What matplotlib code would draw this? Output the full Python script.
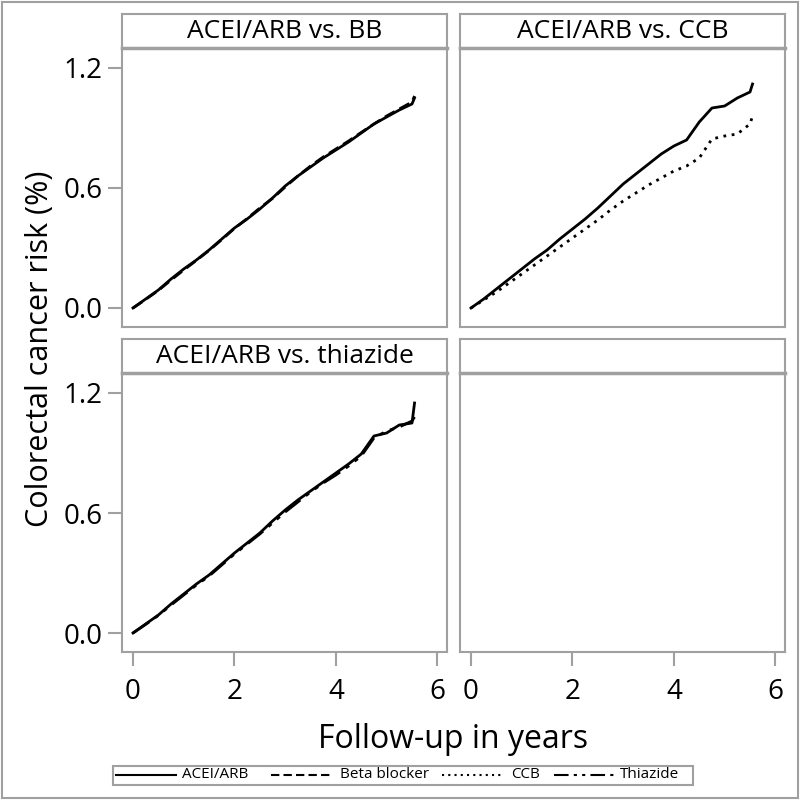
import matplotlib
matplotlib.use("Agg")
import matplotlib.pyplot as plt
from matplotlib.lines import Line2D
from matplotlib.patches import Rectangle

plt.rcParams["font.family"] = ["Open Sans", "DejaVu Sans"]

# follow-up time points (years)
years = [0, 0.25, 0.5, 0.75, 1.0, 1.25, 1.5, 1.75, 2.0, 2.25, 2.5, 2.75,
         3.0, 3.25, 3.5, 3.75, 4.0, 4.25, 4.5, 4.75, 5.0, 5.25, 5.5, 5.55]

# cumulative colorectal cancer risk (%)
bb_acei = [0, 0.045, 0.09, 0.145, 0.195, 0.24, 0.29, 0.345, 0.40, 0.445, 0.495, 0.55,
           0.61, 0.66, 0.705, 0.75, 0.79, 0.83, 0.875, 0.92, 0.955, 0.99, 1.02, 1.05]
bb_beta = [0, 0.043, 0.088, 0.14, 0.19, 0.238, 0.288, 0.342, 0.398, 0.447, 0.50, 0.548,
           0.605, 0.66, 0.71, 0.755, 0.795, 0.835, 0.878, 0.92, 0.96, 0.995, 1.03, 1.06]
ccb_acei = [0, 0.045, 0.095, 0.145, 0.195, 0.245, 0.29, 0.345, 0.395, 0.445, 0.50, 0.56,
            0.62, 0.67, 0.72, 0.77, 0.81, 0.84, 0.93, 1.00, 1.01, 1.05, 1.08, 1.12]
ccb_ccb = [0, 0.04, 0.08, 0.125, 0.17, 0.215, 0.26, 0.305, 0.35, 0.395, 0.44, 0.49,
           0.535, 0.575, 0.615, 0.65, 0.685, 0.71, 0.75, 0.845, 0.86, 0.87, 0.92, 0.96]
thz_acei = [0, 0.045, 0.09, 0.145, 0.195, 0.245, 0.29, 0.345, 0.40, 0.45, 0.50, 0.56,
            0.615, 0.665, 0.71, 0.755, 0.80, 0.845, 0.895, 0.985, 1.00, 1.04, 1.05, 1.15]
thz_thz = [0, 0.043, 0.088, 0.14, 0.19, 0.24, 0.285, 0.34, 0.395, 0.445, 0.495, 0.55,
           0.605, 0.655, 0.705, 0.75, 0.79, 0.835, 0.885, 0.975, 1.01, 1.03, 1.06, 1.08]

panel_titles = ["ACEI/ARB vs. BB", "ACEI/ARB vs. CCB", "ACEI/ARB vs. thiazide", ""]
groups = ["ACEI/ARB", "Beta blocker", "CCB", "Thiazide"]
styles = {"ACEI/ARB": "-", "Beta blocker": (0, (4, 2)), "CCB": (0, (1, 2)),
          "Thiazide": (0, (7, 2.5, 1.5, 2.5, 1.5, 2.5))}

panels = [
    [("ACEI/ARB", bb_acei), ("Beta blocker", bb_beta)],
    [("ACEI/ARB", ccb_acei), ("CCB", ccb_ccb)],
    [("ACEI/ARB", thz_acei), ("Thiazide", thz_thz)],
    [],
]

GRAY = "#a0a0a0"
W = H = 800.0
fig = plt.figure(figsize=(8, 8), dpi=100)
fig.patches.append(Rectangle((0.002, 0.002), 0.996, 0.996, transform=fig.transFigure,
                             fill=False, edgecolor=GRAY, lw=1.5))

# pixel boxes: left edge per column, plot top per row
lefts = [122, 460]
tops = [48, 373]
pw, ph, hh = 325, 279, 34

for i, series in enumerate(panels):
    r, c = divmod(i, 2)
    x0, y0 = lefts[c], tops[r]
    ax = fig.add_axes([x0 / W, 1 - (y0 + ph) / H, pw / W, ph / H])
    hdr = fig.add_axes([x0 / W, 1 - y0 / H, pw / W, hh / H])
    hdr.set_xticks([])
    hdr.set_yticks([])
    for s in hdr.spines.values():
        s.set_color(GRAY)
        s.set_linewidth(1.5)
    hdr.spines["bottom"].set_linewidth(2.5)
    hdr.text(0.5, 0.5, panel_titles[i], ha="center", va="center", fontsize=19)

    for name, vals in series:
        ax.plot(years, vals, color="black", lw=2, linestyle=styles[name])

    ax.set_xlim(-0.217, 6.19)
    ax.set_ylim(-0.095, 1.30)
    for s in ax.spines.values():
        s.set_color(GRAY)
        s.set_linewidth(1.5)
    ax.set_xticks([0, 2, 4, 6])
    ax.set_yticks([0.0, 0.6, 1.2])
    ax.set_yticklabels(["0.0", "0.6", "1.2"])
    ax.tick_params(colors=GRAY, labelcolor="black", labelsize=20, length=10, width=1.5)
    ax.tick_params(axis="x", pad=9)
    ax.tick_params(axis="y", pad=4)
    if r == 0:
        ax.tick_params(axis="x", bottom=False, labelbottom=False)
    if c == 1:
        ax.tick_params(axis="y", left=False, labelleft=False)

fig.text(0.5 * (122 + 785) / W, 1 - 740 / H, "Follow-up in years", ha="center",
         va="center", fontsize=23)
fig.text(40 / W, 1 - 349 / H, "Colorectal cancer risk (%)", ha="center",
         va="center", rotation=90, fontsize=22)

# legend drawn by hand: frame, then sample line + label per group
leg_x0, leg_x1, leg_y = 113, 693, 775
fig.patches.append(Rectangle((leg_x0 / W, 1 - 785 / H), (leg_x1 - leg_x0) / W, 19 / H,
                             transform=fig.transFigure, fill=False,
                             edgecolor=GRAY, lw=1.5))
leg_lines = [(116, 176), (271, 331), (442, 503), (554, 614)]
leg_text_x = [182, 340, 511, 620]
for g, (lx0, lx1), tx in zip(groups, leg_lines, leg_text_x):
    fig.add_artist(Line2D([lx0 / W, lx1 / W], [1 - leg_y / H] * 2, color="black",
                          lw=1.5, linestyle=styles[g], transform=fig.transFigure))
    fig.text(tx / W, 1 - leg_y / H, g, ha="left", va="center", fontsize=11)

fig.savefig("out.png", dpi=100)
